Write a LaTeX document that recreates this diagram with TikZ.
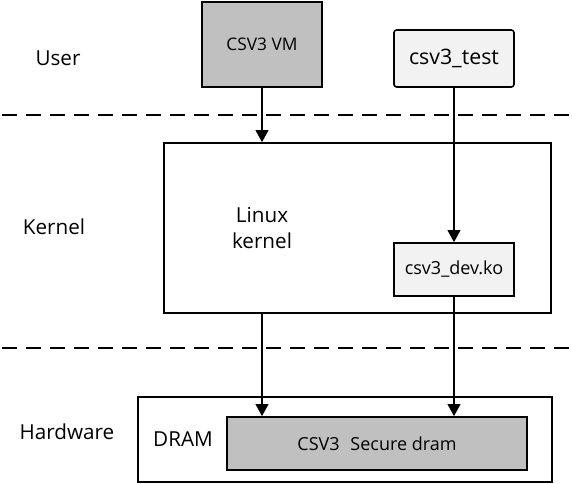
\documentclass[tikz,border=0pt]{standalone}
\usepackage{fontspec}
\setmainfont{Open Sans}
\usetikzlibrary{arrows.meta}
\definecolor{boxgray}{HTML}{C0C0C0}
\definecolor{lightbox}{HTML}{F2F2F2}
\tikzset{
  box/.style={draw=black, line width=1.2pt, inner sep=0pt, align=center},
  lbl/.style={font=\fontsize{15.5}{18}\selectfont},
  conn/.style={line width=1.2pt, -{Triangle[width=9.5pt,length=9pt]}},
  plainline/.style={line width=1.2pt},
  sep/.style={line width=1.6pt, dash pattern=on 11pt off 7pt}
}
\begin{document}
\begin{tikzpicture}[x=0.75pt,y=-0.75pt]
\useasboundingbox (0,0) rectangle (572,484);
% separators
\coordinate (s1a) at (2,115); \coordinate (s1b) at (572,115);
\coordinate (s2a) at (2,348); \coordinate (s2b) at (572,348);
\draw[sep] (s1a) -- (s1b);
\draw[sep] (s2a) -- (s2b);
% layer labels
\node[lbl] (user) at (58,58) {User};
\node[lbl] (kernlbl) at (54,227) {Kernel};
\node[lbl] (hwlbl) at (67,432) {Hardware};
% boxes
\node[box, fill=boxgray, minimum width=120*0.75pt, minimum height=85*0.75pt, font=\fontsize{13}{15}\selectfont] (vm) at (262,44.5) {CSV3 VM};
\node[box, fill=lightbox, rounded corners=2pt, minimum width=120*0.75pt, minimum height=57*0.75pt, font=\fontsize{16}{18}\selectfont] (test) at (454,58.5) {csv3\_test};
\node[box, fill=white, minimum width=387*0.75pt, minimum height=170*0.75pt] (kernel) at (357.5,228) {};
\node[align=center, font=\fontsize{15.5}{20}\selectfont] (linux) at (262,228) {Linux\\kernel};
\node[box, fill=lightbox, minimum width=120*0.75pt, minimum height=53*0.75pt, font=\fontsize{13.5}{15}\selectfont] (dev) at (454,269.5) {csv3\_dev.ko};
\node[box, fill=white, minimum width=414*0.75pt, minimum height=85*0.75pt] (hw) at (345,439.5) {};
\node[lbl] (dramlbl) at (183,439) {DRAM};
\node[box, fill=boxgray, minimum width=300*0.75pt, minimum height=53*0.75pt, font=\fontsize{13.5}{15}\selectfont] (dram) at (377,443.5) {CSV3\hspace{0.6em}Secure dram};
% connectors
\draw[conn] (vm.south) -- (vm.south |- kernel.north);
\draw[plainline] (test.south) -- (test.south |- s1a);
\draw[conn] (test.south |- s1a) -- (dev.north);
\draw[conn] (vm.south |- kernel.south) -- (vm.south |- dram.north);
\draw[conn] (dev.south) -- (dev.south |- dram.north);
\end{tikzpicture}
\end{document}
